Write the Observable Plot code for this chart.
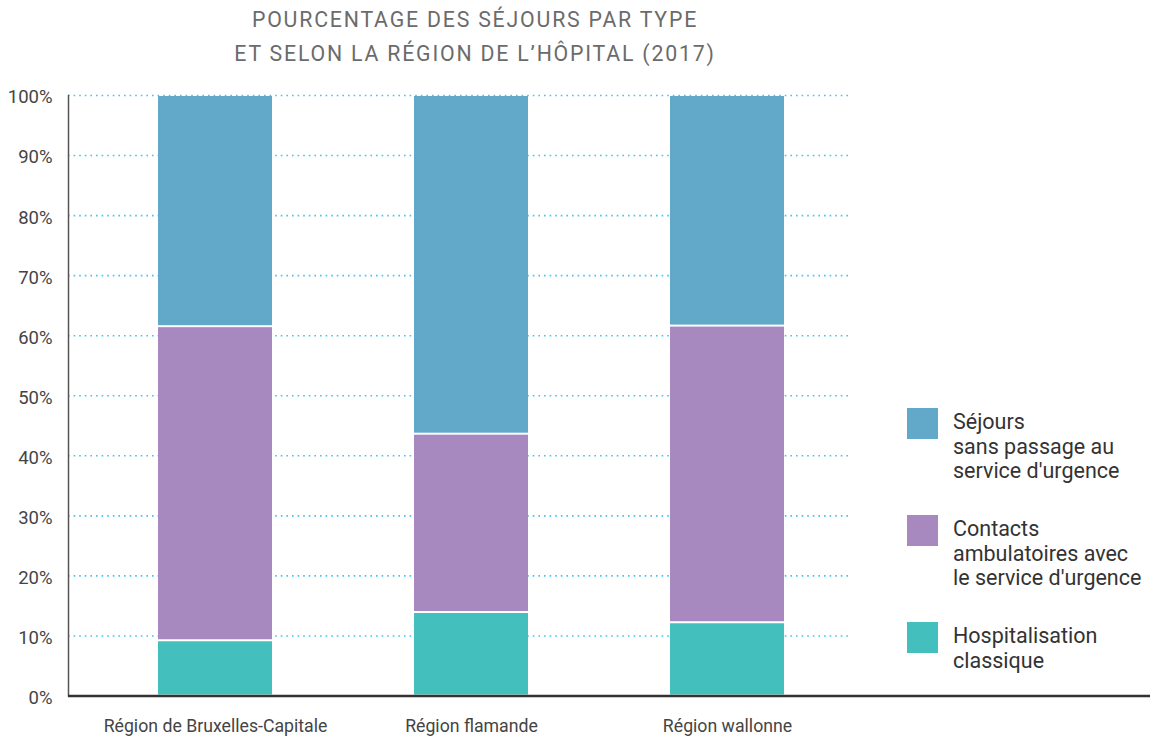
<!DOCTYPE html>
<html>
<head>
<meta charset="utf-8">
<script src="https://cdn.jsdelivr.net/npm/d3@7"></script>
<script src="https://cdn.jsdelivr.net/npm/@observablehq/plot@0.6"></script>
<style>
  body { margin: 0; background: #fff; font-family: Roboto, "Liberation Sans", sans-serif; }
  #wrap { position: relative; width: 1156px; height: 738px; }
  #title { position: absolute; left: 0; top: 3px; width: 950px; text-align: center; color: #6b6b6b;
           font-size: 21.3px; line-height: 34px; letter-spacing: 1.8px; }
  #chart { position: absolute; left: 0; top: 80px; }
  #legend { position: absolute; left: 907px; top: 408px; }
  .item { position: relative; height: 107px; }
  .sw { position: absolute; left: 0; top: 0; width: 31px; height: 31px; }
  .lab { position: absolute; left: 46px; top: 2px; font-size: 21.5px; line-height: 24.5px; color: #333; white-space: nowrap; }
</style>
</head>
<body>
<div id="wrap">
  <div id="title">POURCENTAGE DES SÉJOURS PAR TYPE<br>ET SELON LA RÉGION DE L’HÔPITAL (2017)</div>
  <div id="chart"></div>
  <div id="legend"></div>
</div>
<script>
const regions = ["Région de Bruxelles-Capitale", "Région flamande", "Région wallonne"];
const types = ["Hospitalisation classique", "Contacts ambulatoires avec le service d'urgence", "Séjours sans passage au service d'urgence"];
const hospitalisation = [9.2, 13.9, 12.2];
const contacts = [52.3, 29.7, 49.4];
const sejours = [38.5, 56.4, 38.4];
const colors = ["#43c0bd", "#a788bf", "#62a8c9"];
const yTicks = [0, 10, 20, 30, 40, 50, 60, 70, 80, 90, 100];
const legendLabels = [
  ["Séjours", "sans passage au", "service d'urgence"],
  ["Contacts", "ambulatoires avec", "le service d'urgence"],
  ["Hospitalisation", "classique"]
];
const legendColors = ["#62a8c9", "#a788bf", "#43c0bd"];

const series = [hospitalisation, contacts, sejours];
const data = [];
regions.forEach((r, i) => {
  types.forEach((t, j) => data.push({region: r, type: t, value: series[j][i]}));
});

const plot = Plot.plot({
  width: 1156,
  height: 658,
  marginTop: 15,
  marginBottom: 42.5,
  marginLeft: 68,
  marginRight: 6,
  style: {fontFamily: "Roboto, sans-serif", fontSize: "18px", color: "#444"},
  x: {domain: regions, range: [68, 874], paddingInner: 0.5564, paddingOuter: 0.3463, label: null},
  y: {domain: [0, 100], label: null},
  color: {domain: types, range: colors},
  marks: [
    Plot.gridY(yTicks.filter(d => d > 0), {stroke: "#3cc6f2", strokeOpacity: 1, strokeWidth: 1.6, strokeDasharray: "1.6,4", insetRight: 300}),
    Plot.barY(data, Plot.stackY({x: "region", y: "value", fill: "type", insetTop: 1, insetBottom: 1})),
    Plot.axisY(yTicks, {tickSize: 0, tickPadding: 16, tickFormat: d => d + "%", fill: "#444", fontSize: 18.5, dy: 2}),
    Plot.axisX({tickSize: 0, tickPadding: 23, fill: "#444", fontSize: 17.7}),
    Plot.frame({anchor: "left", stroke: "#555", strokeWidth: 1.5}),
    Plot.ruleY([0], {stroke: "#333", strokeWidth: 2.5})
  ]
});
document.getElementById("chart").appendChild(plot);

const legend = document.getElementById("legend");
legendLabels.forEach((lines, i) => {
  const item = document.createElement("div");
  item.className = "item";
  const sw = document.createElement("div");
  sw.className = "sw";
  sw.style.background = legendColors[i];
  const lab = document.createElement("div");
  lab.className = "lab";
  lab.innerHTML = lines.join("<br>");
  item.appendChild(sw);
  item.appendChild(lab);
  legend.appendChild(item);
});
</script>
</body>
</html>
